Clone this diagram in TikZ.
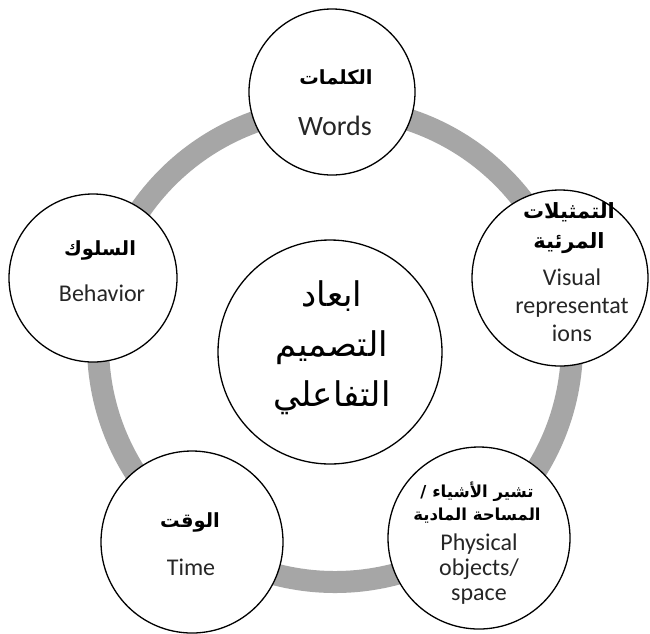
\documentclass[tikz,border=0pt]{standalone}
\usepackage{fontspec}
\setmainfont{Carlito}
\newfontfamily\arabicfont[Script=Arabic]{DejaVu Sans}
\TeXXeTstate=1
\definecolor{ringgray}{HTML}{A6A6A6}
\tikzset{
  sat/.style={circle,draw=black,line width=1.3pt,fill=white,inner sep=0pt},
  ar/.style={font=\arabicfont\bfseries\fontsize{19.5}{23}\selectfont,align=center,inner sep=0pt},
  en/.style={font=\fontsize{24}{25}\selectfont,align=center,inner sep=0pt,text=black!85},
}
\begin{document}
\begin{tikzpicture}[x=1pt,y=-1pt]
\useasboundingbox (0,0) rectangle (650,633);
\fill[white] (0,0) rectangle (650,633);
\node[circle,draw=ringgray,line width=22pt,minimum size=474pt,inner sep=0pt] (ring) at (335,345) {};
% satellites
\node[sat,minimum size=166pt] (words) at (332,92) {};
\node[sat,minimum size=176pt] (visual) at (560,278) {};
\node[sat,minimum size=182pt] (phys) at (479,538) {};
\node[sat,minimum size=182pt] (time) at (192,542) {};
\node[sat,minimum size=168pt] (behav) at (93,278) {};
\node[sat,minimum size=224pt] (center) at (330,352) {};
% texts
\node[ar] (t1a) at (336,77) {\beginR الكلمات\endR};
\node[en,font=\fontsize{28}{30}\selectfont] (t1b) at (335,126) {Words};
\node[ar,font=\arabicfont\bfseries\fontsize{21}{30}\selectfont] (t2a) at (569,228) {\beginR التمثيلات\endR\\\beginR المرئية\endR};
\node[en,font=\fontsize{24}{28}\selectfont] (t2b) at (572,305) {Visual\\representat\\ions};
\node[ar,font=\arabicfont\bfseries\fontsize{16.5}{23}\selectfont] (t3a) at (477,503) {\beginR تشير الأشياء /\endR\\\beginR المساحة المادية\endR};
\node[en] (t3b) at (479,569) {Physical\\objects/\\space};
\node[ar] (t4a) at (190,522) {\beginR الوقت\endR};
\node[en] (t4b) at (191,567) {Time};
\node[ar] (t5a) at (100,250) {\beginR السلوك\endR};
\node[en] (t5b) at (102,293) {Behavior};
\node[align=center,inner sep=0pt,font=\arabicfont\fontsize{34}{50}\selectfont] (tc) at (332,348) {\beginR ابعاد\endR\\\beginR التصميم\endR\\\beginR التفاعلي\endR};
\end{tikzpicture}
\end{document}
